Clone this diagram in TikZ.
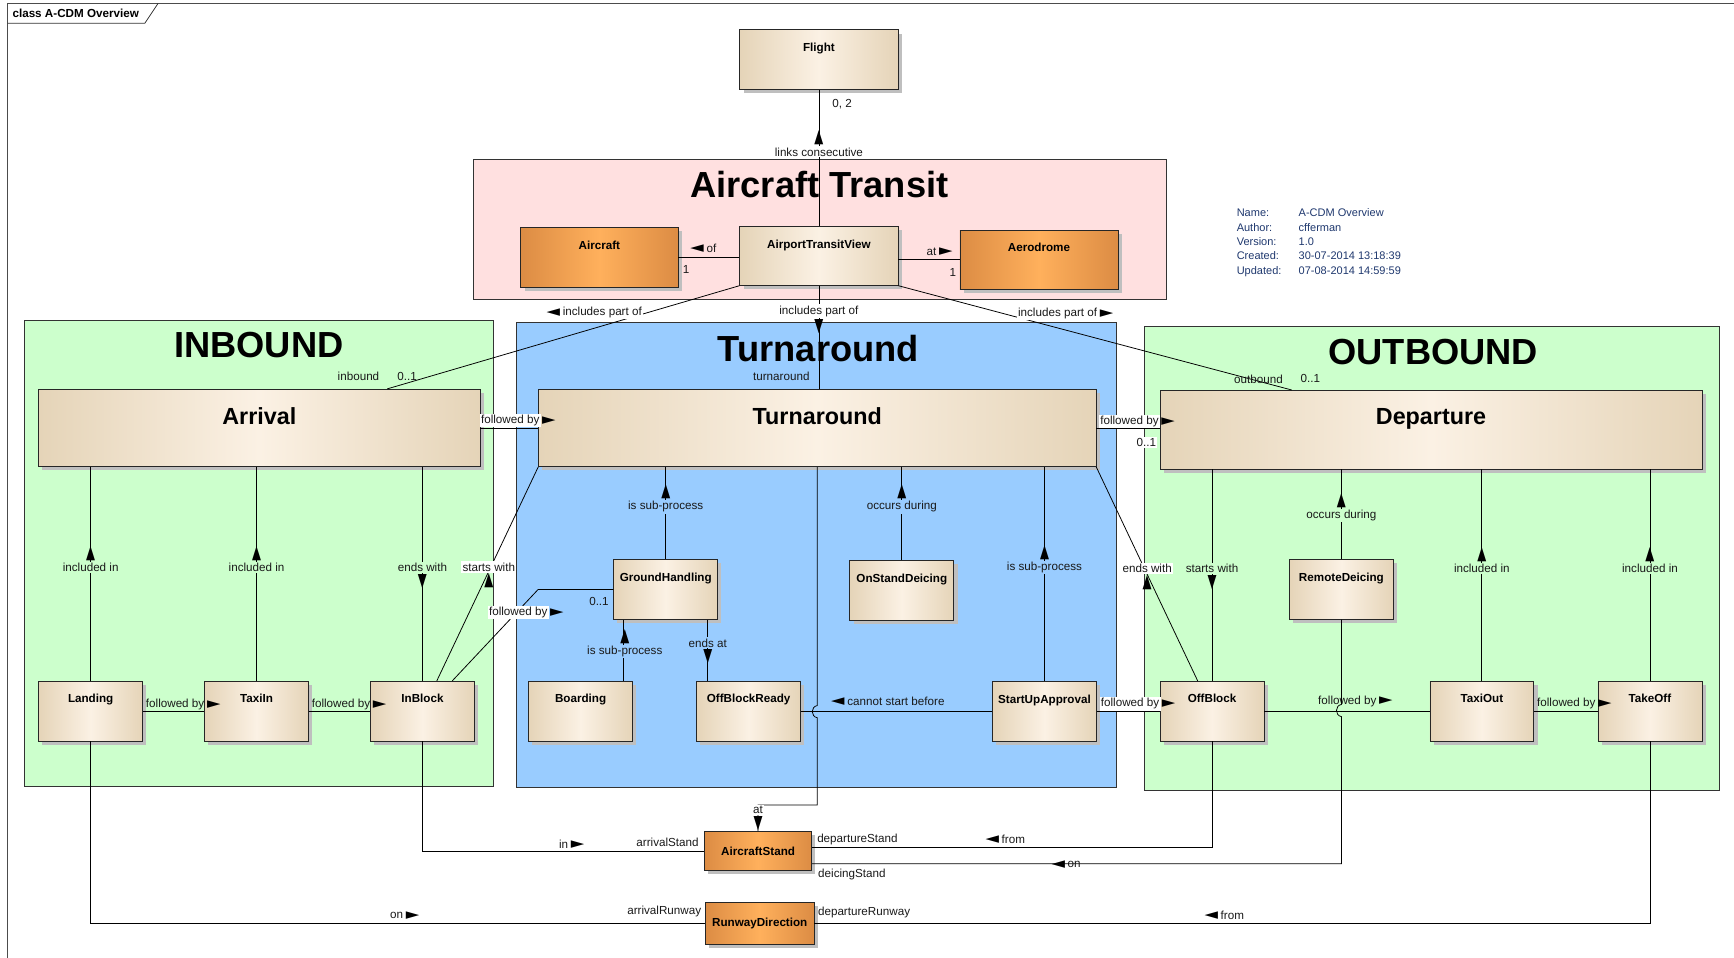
\documentclass[tikz,border=0pt]{standalone}
\usepackage{fontspec}
\setmainfont{Liberation Sans}
\newfontfamily\symf{DejaVu Sans}
\usetikzlibrary{shadows}

\definecolor{transitbg}{RGB}{255,224,224}
\definecolor{inbg}{RGB}{204,255,204}
\definecolor{turnbg}{RGB}{153,204,255}
\definecolor{beigeE}{RGB}{229,212,184}
\definecolor{beigeM}{RGB}{251,241,228}
\definecolor{orangeE}{RGB}{220,140,68}
\definecolor{orangeM}{RGB}{255,176,92}
\definecolor{metablue}{RGB}{31,56,110}

\newcommand\lblfont{\fontsize{9}{10}\selectfont}
\newcommand\clsfont{\bfseries\fontsize{9}{10}\selectfont}
\newcommand\bignamefont{\bfseries\fontsize{18}{20}\selectfont}
\newcommand\pkgfont{\bfseries\fontsize{28}{30}\selectfont}
\newcommand\tup{{\symf\scalebox{1.0}[1.6]{▲}}}
\newcommand\tdn{{\symf\scalebox{1.0}[1.6]{▼}}}
\newcommand\trt{{\symf\scalebox{1.5}[1.3]{►}}}
\newcommand\tlf{{\symf\scalebox{1.5}[1.3]{◄}}}

\tikzset{
  box/.style={draw=black!85, line width=0.6pt,
    drop shadow={shadow xshift=0.1cm, shadow yshift=-0.1cm, fill=black!25, opacity=1}},
  cls/.style={box, left color=beigeE, right color=beigeE, middle color=beigeM,
    minimum width=2.82cm, minimum height=1.62cm,
    label={[font=\clsfont, anchor=north, inner sep=0pt, yshift=-0.36cm]north:#1}},
  ocls/.style={cls=#1, left color=orangeE, right color=orangeE, middle color=orangeM,
    minimum width=4.26cm},
  bigcls/.style={box, left color=beigeE, right color=beigeE, middle color=beigeM,
    minimum height=2.1cm,
    label={[font=\bignamefont, anchor=north, inner sep=0pt, yshift=-0.49cm]north:#1}},
  ostand/.style={box, left color=orangeE, right color=orangeE, middle color=orangeM,
    font=\clsfont, minimum width=2.91cm, minimum height=1.05cm, inner sep=0pt},
  pkg/.style={draw=black!80, line width=0.7pt},
  pkgtitle/.style={font=\pkgfont, inner sep=0pt},
  lbl/.style={font=\lblfont, inner sep=1pt, text=black!90},
  onw/.style={fill=white},
  ong/.style={fill=inbg},
  onb/.style={fill=turnbg},
  arrsty/.style={inner sep=0.5pt, font=\lblfont},
  dirup/.style={label={[arrsty]above:\tup}},
  dirdn/.style={label={[arrsty]below:\tdn}},
  dirupb/.style={label={[arrsty]below:\tup}},
  dirrt/.style={label={[arrsty]right:\trt}},
  dirlf/.style={label={[arrsty]left:\tlf}}
}

\begin{document}
\begin{tikzpicture}[x=0.03cm, y=-0.03cm, line width=0.6pt]
  \useasboundingbox (0,0) rectangle (1568,866);

  % diagram frame
  \draw[line width=0.8pt, black!70] (7,880) -- (7,3) -- (1580,3);
  \draw[line width=0.6pt, black!80] (7,21) -- (131,21) -- (143,3);
  \node[font=\clsfont, anchor=west, inner sep=0pt] (frametitle) at (11,12) {class A-CDM Overview};

  % packages
  \draw[pkg, fill=transitbg] (428,144) rectangle (1055,271);
  \draw[pkg, fill=inbg] (22,290) rectangle (446,711);
  \draw[pkg, fill=turnbg] (467,292) rectangle (1010,712);
  \draw[pkg, fill=inbg] (1035,295) rectangle (1555,715);
  \node[pkgtitle] (ttransit) at (741,167) {Aircraft Transit};
  \node[pkgtitle] (tin) at (234,312) {INBOUND};
  \node[pkgtitle] (tturn) at (740,315) {Turnaround};
  \node[pkgtitle] (tout) at (1296,318) {OUTBOUND};

  % diagram notes
  \node[anchor=north west, inner sep=0pt, text=metablue, font=\fontsize{8.5}{11.1}\selectfont] (meta) at (1118,186.5)
    {\begin{tabular}{@{}p{1.68cm}@{}l@{}}
      Name: & A-CDM Overview\\
      Author: & cfferman\\
      Version: & 1.0\\
      Created: & 30-07-2014 13:18:39\\
      Updated: & 07-08-2014 14:59:59
    \end{tabular}};

  % classes
  \node[cls=Flight, minimum width=4.29cm] (flight) at (740.5,54) {};
  \node[ocls=Aircraft] (aircraft) at (542,233) {};
  \node[cls=AirportTransitView, minimum width=4.29cm, minimum height=1.59cm] (atv) at (740.5,231.5) {};
  \node[ocls=Aerodrome, minimum width=4.29cm] (aerodrome) at (939.5,235) {};

  \node[bigcls=Arrival, minimum width=11.97cm] (arrival) at (234.5,387) {};
  \node[bigcls=Turnaround, minimum width=15.12cm] (turn) at (739,387) {};
  \node[bigcls=Departure, minimum width=14.7cm, minimum height=2.13cm] (dep) at (1294,388.5) {};

  \node[cls=Landing] (landing) at (82,643) {};
  \node[cls=TaxiIn] (taxiin) at (232,643) {};
  \node[cls=InBlock] (inblock) at (382,643) {};

  \node[cls=GroundHandling] (gh) at (602,533) {};
  \node[cls=OnStandDeicing] (osd) at (815.5,534) {};
  \node[cls=Boarding] (boarding) at (525,643) {};
  \node[cls=OffBlockReady] (obr) at (677,643) {};
  \node[cls=StartUpApproval] (sua) at (944.5,643.5) {};

  \node[cls=OffBlock] (offblock) at (1096,643) {};
  \node[cls=RemoteDeicing] (remote) at (1213,533) {};
  \node[cls=TaxiOut] (taxiout) at (1340,643) {};
  \node[cls=TakeOff] (takeoff) at (1492,643) {};

  \node[ostand] (stand) at (685.5,769.5) {AircraftStand};
  \node[ostand, minimum width=2.94cm, minimum height=1.14cm] (rwy) at (687,835) {RunwayDirection};

  % aircraft transit
  \draw (flight.south) -- (atv.north)
    node[lbl, pos=0, shift={(21,13)}] {0, 2}
    node[lbl, onw, dirup, pos=0, shift={(0,56)}] {links consecutive};
  \draw (aircraft.east) -- (aircraft.east -| atv.west)
    node[lbl, dirlf, pos=0, shift={(30,-8)}] {of}
    node[lbl, pos=0, shift={(7,11)}] {1};
  \draw (aerodrome.west -| atv.east) -- (aerodrome.west)
    node[lbl, dirrt, pos=0, shift={(30,-7)}] {at}
    node[lbl, pos=1, shift={(-6,11)}] {1};
  \draw (atv.south west) -- ([xshift=3.47cm]arrival.north)
    node[lbl, onw, dirlf, pos=0, shift={(-124,24)}] {includes part of}
    node[lbl, pos=1, shift={(-26,-11)}] {inbound}
    node[lbl, pos=1, shift={(18,-11)}] {0..1};
  \draw (atv.south) -- (atv.south |- turn.north)
    node[lbl, onw, dirdn, pos=0, shift={(0,23)}] {includes part of}
    node[lbl, pos=1, shift={(-34,-11)}] {turnaround};
  \draw (atv.south east) -- ([xshift=-3.78cm]dep.north)
    node[lbl, onw, dirrt, pos=0, shift={(144,25)}] {includes part of}
    node[lbl, pos=1, shift={(-30,-10)}] {outbound}
    node[lbl, pos=1, shift={(17,-10)}] {0..1};

  % inbound
  \draw (arrival.east) -- (turn.west)
    node[lbl, onw, dirrt, pos=0, shift={(27,-7)}] {followed by};
  \draw (landing.north |- arrival.south) -- (landing.north)
    node[lbl, ong, dirup, pos=0, shift={(0,91)}] {included in};
  \draw (taxiin.north |- arrival.south) -- (taxiin.north)
    node[lbl, ong, dirup, pos=0, shift={(0,91)}] {included in};
  \draw (inblock.north |- arrival.south) -- (inblock.north)
    node[lbl, ong, dirdn, pos=0, shift={(0,91)}] {ends with};
  \draw (landing.east) -- (taxiin.west)
    node[lbl, dirrt, pos=0, shift={(29,-6)}] {followed by};
  \draw (taxiin.east) -- (inblock.west)
    node[lbl, dirrt, pos=0, shift={(29,-6)}] {followed by};
  \draw ([xshift=0.39cm]inblock.north) -- (turn.south west)
    node[lbl, onw, dirupb, pos=0, shift={(47,-103)}] {starts with};
  \draw ([xshift=0.81cm]inblock.north) -- (gh.west -| turn.south west)
    node[lbl, onw, dirrt, shift={(-18,21)}] {followed by}
    -- (gh.west) node[lbl, shift={(-13,11)}] {0..1};

  % turnaround
  \draw (gh.north |- turn.south) -- (gh.north)
    node[lbl, onb, dirup, pos=0, shift={(0,36)}] {is sub-process};
  \draw (osd.north |- turn.south) -- (osd.north)
    node[lbl, onb, dirup, pos=0, shift={(0,36)}] {occurs during};
  \draw (sua.north |- turn.south) -- (sua.north)
    node[lbl, onb, dirup, pos=0, shift={(0,91)}] {is sub-process};
  \draw ([xshift=-1.14cm]gh.south) -- ([xshift=-1.14cm]gh.south |- boarding.north)
    node[lbl, onb, dirup, pos=0, shift={(1,29)}] {is sub-process};
  \draw ([xshift=1.14cm]gh.south) -- ([xshift=1.14cm]gh.south |- obr.north)
    node[lbl, onb, dirdn, pos=0, shift={(0,21)}] {ends at};
  \draw (sua.west) -- (sua.west -| obr.east)
    node[lbl, dirlf, pos=0, shift={(-87,-9)}] {cannot start before};
  \draw (turn.south) -- (739,638) .. controls (733,639) and (733,648) .. (739,649)
    -- (739,728) -| (stand.north)
    node[lbl, onw, dirdn, pos=1, shift={(0,-19)}] {at};
  \draw (turn.east) -- (turn.east -| dep.west)
    node[lbl, onw, dirrt, pos=0, shift={(30,-6)}] {followed by}
    node[lbl, onw, pos=1, shift={(-12,13)}] {0..1};

  % outbound
  \draw (offblock.north |- dep.south) -- (offblock.north)
    node[lbl, ong, dirdn, pos=0, shift={(0,90)}] {starts with};
  \draw (remote.north |- dep.south) -- (remote.north)
    node[lbl, ong, dirup, pos=0, shift={(0,42)}] {occurs during};
  \draw (taxiout.north |- dep.south) -- (taxiout.north)
    node[lbl, ong, dirup, pos=0, shift={(0,90)}] {included in};
  \draw (takeoff.north |- dep.south) -- (takeoff.north)
    node[lbl, ong, dirup, pos=0, shift={(0,90)}] {included in};
  \draw (turn.south east) -- ([xshift=-0.39cm]offblock.north)
    node[lbl, onw, dirupb, pos=0, shift={(46,92)}] {ends with};
  \draw (sua.east) -- (sua.east -| offblock.west)
    node[lbl, onw, dirrt, pos=0, shift={(30,-7)}] {followed by};
  \draw (offblock.east) -- (taxiout.west)
    node[lbl, dirrt, pos=0, shift={(75,-9)}] {followed by};
  \draw (taxiout.east) -- (takeoff.west)
    node[lbl, dirrt, pos=0, shift={(29,-7)}] {followed by};

  % stands and runways
  \draw (inblock.south) |- (stand.west)
    node[lbl, dirrt, pos=1, shift={(-127,-6)}] {in}
    node[lbl, pos=1, shift={(-33,-8)}] {arrivalStand};
  \draw (offblock.south) |- ([yshift=0.1cm]stand.east)
    node[lbl, pos=1, shift={(41,-7)}] {departureStand}
    node[lbl, dirlf, pos=1, shift={(182,-7)}] {from};
  \draw (remote.south) -- (1213,637) .. controls (1207,638) and (1207,647) .. (1213,648)
    |- ([yshift=-0.345cm]stand.east)
    node[lbl, pos=1, shift={(36,10)}] {deicingStand}
    node[lbl, dirlf, pos=1, shift={(237,1)}] {on};
  \draw (landing.south) |- (rwy.west)
    node[lbl, dirrt, pos=1, shift={(-279,-7)}] {on}
    node[lbl, pos=1, shift={(-37,-11)}] {arrivalRunway};
  \draw (takeoff.south) |- (rwy.east)
    node[lbl, pos=1, shift={(45,-10)}] {departureRunway}
    node[lbl, dirlf, pos=1, shift={(378,-7)}] {from};
\end{tikzpicture}
\end{document}
